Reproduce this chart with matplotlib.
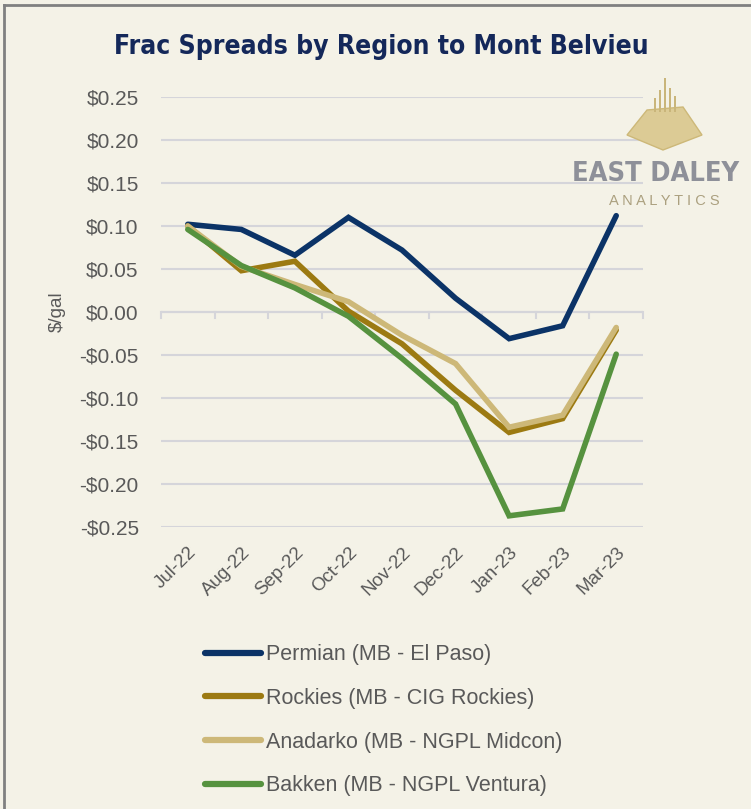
import matplotlib
matplotlib.use("Agg")
import matplotlib.pyplot as plt
from matplotlib.patches import Polygon, Rectangle
from matplotlib.ticker import FuncFormatter

months = ['Jul-22', 'Aug-22', 'Sep-22', 'Oct-22', 'Nov-22', 'Dec-22', 'Jan-23', 'Feb-23', 'Mar-23']
permian = [0.102, 0.096, 0.066, 0.110, 0.072, 0.016, -0.031, -0.016, 0.112]
rockies = [0.100, 0.048, 0.059, 0.001, -0.037, -0.091, -0.140, -0.124, -0.021]
anadarko = [0.100, 0.053, 0.032, 0.012, -0.027, -0.060, -0.134, -0.120, -0.018]
bakken = [0.096, 0.054, 0.028, -0.005, -0.054, -0.107, -0.237, -0.229, -0.049]

series_names = ['Permian (MB - El Paso)', 'Rockies (MB - CIG Rockies)',
                'Anadarko (MB - NGPL Midcon)', 'Bakken (MB - NGPL Ventura)']
series_colors = ['#0B3367', '#9C7A12', '#CDB878', '#56923F']

bg = '#F4F2E7'
grid_c = '#D5D5DA'
text_c = '#595959'

plt.rcParams['font.family'] = ['Liberation Sans', 'DejaVu Sans']

fig = plt.figure(figsize=(7.51, 8.09), dpi=100, facecolor=bg)
ax = fig.add_axes([161 / 751, 1 - 527 / 809, (643 - 161) / 751, (527 - 97) / 809])
ax.set_facecolor(bg)

x = list(range(len(months)))
for vals, name, col in zip([permian, rockies, anadarko, bakken], series_names, series_colors):
    ax.plot(x, vals, color=col, lw=4, label=name, solid_joinstyle='miter',
            solid_capstyle='round')

ax.set_xlim(-0.5, len(months) - 0.5)
ax.set_ylim(-0.25, 0.25)
ax.set_yticks([-0.25, -0.20, -0.15, -0.10, -0.05, 0.0, 0.05, 0.10, 0.15, 0.20, 0.25])
ax.yaxis.set_major_formatter(FuncFormatter(lambda v, p: ('-$%.2f' % abs(v)) if v < -1e-9 else '$%.2f' % abs(v)))
ax.grid(axis='y', color=grid_c, lw=1.5, zorder=0)
ax.set_axisbelow(True)
for s in ax.spines.values():
    s.set_visible(False)

# category axis sits at zero with boundary tick marks
ax.axhline(0, color=grid_c, lw=1.5, zorder=1)
for b in range(len(months) + 1):
    ax.plot([b - 0.5, b - 0.5], [0, -0.007], color=grid_c, lw=1.5, zorder=1, clip_on=False)

ax.set_xticks(x)
ax.set_xticklabels(months, rotation=45, ha='right', rotation_mode='anchor')
ax.tick_params(axis='x', length=0, pad=12, labelsize=13.5, labelcolor=text_c)
ax.tick_params(axis='y', length=0, pad=16, labelsize=15, labelcolor=text_c)
ax.set_ylabel('$/gal', fontsize=13.5, color=text_c, labelpad=10)

fig.text(381 / 751, 1 - 47 / 809, 'Frac Spreads by Region to Mont Belvieu', ha='center', va='center',
         fontsize=19, color='#14285A', fontweight='bold', fontstretch='condensed',
         family=['DejaVu Sans'])

# logo
pyr = Polygon([[627 / 751, 1 - 135 / 809], [647 / 751, 1 - 110 / 809], [683 / 751, 1 - 107 / 809],
               [702 / 751, 1 - 135 / 809], [663 / 751, 1 - 150 / 809]],
              closed=True, transform=fig.transFigure, facecolor='#DCCB95', edgecolor='#CDB878', lw=1)
fig.patches.append(pyr)
for bx, btop in [(654, 98), (659, 90), (664, 78), (669, 88), (674, 96)]:
    fig.patches.append(Rectangle((bx / 751, 1 - 112 / 809), 2.2 / 751, (112 - btop) / 809,
                                 transform=fig.transFigure, facecolor='#C9B57A', edgecolor='none'))
fig.text(572 / 751, 1 - 174 / 809, 'EAST DALEY', ha='left', va='center', fontsize=19.5,
         color='#8E9099', fontweight='bold', fontstretch='condensed', family=['DejaVu Sans'])
fig.text(664 / 751, 1 - 201 / 809, 'A N A L Y T I C S', ha='center', va='center', fontsize=10.5,
         color='#ABA07F')

leg = fig.legend(loc='upper left', bbox_to_anchor=(186 / 751, 1 - 625 / 809), frameon=False,
                 fontsize=15.5, handlelength=2.6, handletextpad=0.2, labelspacing=1.05)
for t in leg.get_texts():
    t.set_color(text_c)
for h in leg.get_lines():
    h.set_linewidth(4.5)

# left/top border of the panel
fig.add_artist(plt.Line2D([4 / 751, 4 / 751], [0, 1 - 5 / 809], transform=fig.transFigure,
                          color='#808080', lw=2))
fig.add_artist(plt.Line2D([4 / 751, 1], [1 - 5 / 809, 1 - 5 / 809], transform=fig.transFigure,
                          color='#808080', lw=2))

fig.savefig('out.png', dpi=100, facecolor=bg)
